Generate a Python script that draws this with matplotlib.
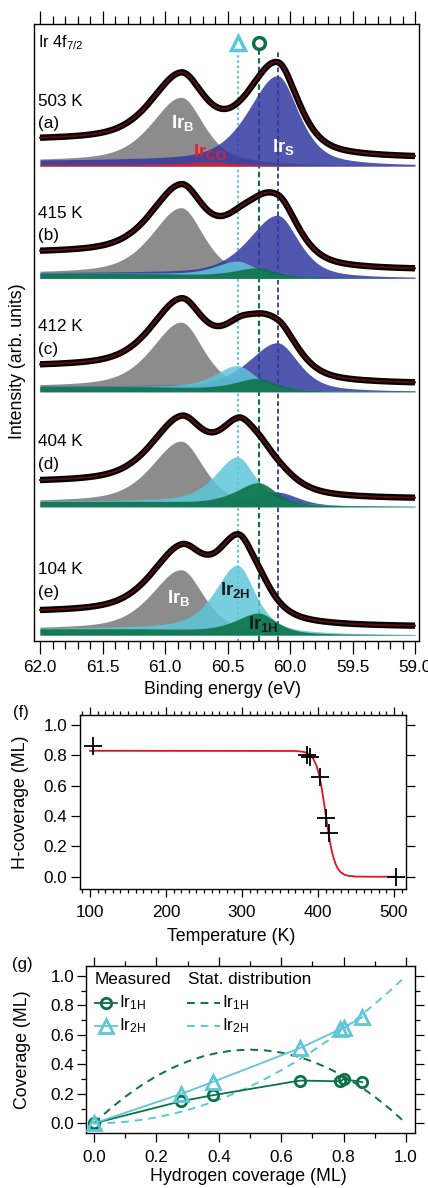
import numpy as np
import matplotlib
matplotlib.use('Agg')
import matplotlib.pyplot as plt
from matplotlib.ticker import MultipleLocator, FormatStrFormatter
from matplotlib.transforms import blended_transform_factory

plt.rcParams['font.family'] = ['Liberation Sans', 'DejaVu Sans']
plt.rcParams['mathtext.fontset'] = 'custom'
plt.rcParams['mathtext.rm'] = 'Liberation Sans'
plt.rcParams['mathtext.it'] = 'Liberation Sans:italic'
plt.rcParams['mathtext.bf'] = 'Liberation Sans:bold'

# ---------------- data: XPS spectra (a)-(e) ----------------
temp_labels = ['503 K', '415 K', '412 K', '404 K', '104 K']
panel_tags = ['(a)', '(b)', '(c)', '(d)', '(e)']
baselines = [475.0, 362.7, 249.3, 134.3, 6.0]      # vertical offset of each spectrum (arb.)
# component binding energies (eV)
E_B, E_S, E_CO, E_2H, E_1H = 60.87, 60.10, 60.65, 60.42, 60.25
# component peak heights (arb. units) per spectrum
h_B = [65, 67, 66, 62, 61]
h_S = [89, 62, 48, 14, 0]
h_CO = [3, 0, 0, 0, 0]
h_2H = [0, 15, 24, 48, 68]
h_1H = [0, 9, 12, 23, 21]
comp_bg = [5, 5, 5, 5, 6]            # Shirley step under the components
data_high_be = [28.3, 27.6, 27.4, 26.7, 25.0]   # measured intensity at 62 eV above baseline
data_low_be = [10.0, 10.0, 9.4, 9.0, 9.3]       # measured intensity at 59 eV above baseline
# line shapes: (left HWHM, right HWHM, lorentz fraction)
shape_B = (0.28, 0.21, 0.55)
shape_S = (0.28, 0.20, 0.60)
shape_CO = (0.25, 0.25, 0.50)
shape_H = (0.22, 0.17, 0.70)

# ---------------- data: panel (f) ----------------
T_meas = [104, 385, 390, 403, 410, 414, 503]
cov_meas = [0.86, 0.80, 0.79, 0.66, 0.39, 0.29, 0.0]
T_fit = [100, 370, 380, 385, 390, 394, 398, 401, 404, 406, 408, 410, 412, 414,
         416, 418, 420, 423, 426, 430, 435, 440, 450, 470, 503]
cov_fit = [0.83, 0.829, 0.824, 0.817, 0.801, 0.776, 0.731, 0.679, 0.607, 0.549,
           0.483, 0.415, 0.347, 0.282, 0.223, 0.173, 0.132, 0.085, 0.054, 0.029,
           0.013, 0.006, 0.001, 0.0, 0.0]

# ---------------- data: panel (g) ----------------
H_cov = [0.0, 0.28, 0.38, 0.66, 0.79, 0.80, 0.86]
Ir1H_meas = [0.0, 0.15, 0.19, 0.29, 0.285, 0.30, 0.28]
Ir2H_meas = [0.0, 0.20, 0.28, 0.51, 0.64, 0.65, 0.72]
theta_stat = [0.0, 0.05, 0.1, 0.15, 0.2, 0.25, 0.3, 0.35, 0.4, 0.45, 0.5,
              0.55, 0.6, 0.65, 0.7, 0.75, 0.8, 0.85, 0.9, 0.95, 1.0]
Ir1H_stat = [0, .095, .18, .255, .32, .375, .42, .455, .48, .495, .5,
             .495, .48, .455, .42, .375, .32, .255, .18, .095, 0]
Ir2H_stat = [0, .0025, .01, .0225, .04, .0625, .09, .1225, .16, .2025, .25,
             .3025, .36, .4225, .49, .5625, .64, .7225, .81, .9025, 1.0]

# ---------------- styling ----------------
C_GRAY = '#8c8c8c'
C_BLUE = '#3338a0'
C_CYAN = '#5ec6d9'
C_GREEN = '#0a7246'
C_RED = '#e0202a'
FS = 12.3

W, H = 428, 1188
fig = plt.figure(figsize=(W / 100, H / 100), dpi=100)


def frac(l, t, r, b):
    return [l / W, 1 - b / H, (r - l) / W, (b - t) / H]


def pv(E, c, h, shape):
    wl, wr, eta = shape
    x = E - c
    w = np.where(x > 0, wl, wr)
    u = x / w
    return h * (eta / (1 + u ** 2) + (1 - eta) * np.exp(-np.log(2) * u ** 2))


# ================= top panel =================
ax = fig.add_axes(frac(34, 24, 419, 641))
E = np.linspace(59.0, 62.0, 1201)
for i in range(5):
    base = baselines[i]
    pB = pv(E, E_B, h_B[i], shape_B)
    pS = pv(E, E_S, h_S[i], shape_S)
    pCO = pv(E, E_CO, h_CO[i], shape_CO)
    p2 = pv(E, E_2H, h_2H[i], shape_H)
    p1 = pv(E, E_1H, h_1H[i], shape_H)
    P = pB + pS + pCO + p2 + p1
    S = np.cumsum(P)
    S = S / S[-1]
    cb = comp_bg[i] * S
    ax.fill_between(E, base, base + cb + pB, color=C_GRAY, lw=0, zorder=2)
    if h_S[i] > 0:
        ax.fill_between(E, base, base + cb + pS, color=C_BLUE, alpha=0.85, lw=0, zorder=2.1)
    if h_CO[i] > 0:
        ax.fill_between(E, base, base + 1.5 * S + pCO, color=C_RED, alpha=0.9, lw=0, zorder=2.2)
    if h_2H[i] > 0:
        ax.fill_between(E, base, base + cb + p2, color=C_CYAN, alpha=0.85, lw=0, zorder=2.3)
    if h_1H[i] > 0:
        ax.fill_between(E, base, base + cb + p1, color=C_GREEN, alpha=0.88, lw=0, zorder=2.4)
    off = data_low_be[i] - P[0]
    step = data_high_be[i] - off - P[-1] - comp_bg[i]
    data = base + off + P + (comp_bg[i] + step) * S
    ax.plot(E, data, color='black', lw=4.6, zorder=5, solid_capstyle='butt')
    ax.plot(E, data, color='#5e0d0d', lw=1.4, zorder=6)
    tr = blended_transform_factory(ax.transAxes, ax.transData)
    ax.text(0.0104, base + 65, temp_labels[i], transform=tr, fontsize=FS, va='center', ha='left')
    ax.text(0.0104, base + 42.5, panel_tags[i], transform=tr, fontsize=FS, va='center', ha='left')

# reference lines and markers
ax.vlines(E_2H, 0, 591, color=C_CYAN, lw=1.5, linestyles=[(0, (1.2, 1.3))], zorder=1)
ax.vlines(E_1H, 0, 591, color=C_GREEN, lw=1.5, linestyles=[(0, (2.6, 1.6))], zorder=1)
ax.vlines(E_S, 0, 591, color=C_BLUE, lw=1.3, linestyles=[(0, (2.6, 1.6))], zorder=1)
ax.plot([E_2H], [598], marker='^', ms=10, mfc='white', mec=C_CYAN, mew=2.5, zorder=7)
ax.plot([E_1H], [598], marker='o', ms=8.5, mfc='white', mec=C_GREEN, mew=2.5, zorder=7)

# component labels
LFS = 13.5
ax.text(60.86, baselines[0] + 43, r'$\mathbf{Ir}_{\mathbf{B}}$', color='white', fontsize=LFS,
        ha='center', va='center', zorder=8)
ax.text(60.056, baselines[0] + 19, r'$\mathbf{Ir}_{\mathbf{S}}$', color='white', fontsize=LFS,
        ha='center', va='center', zorder=8)
ax.text(60.644, baselines[0] + 14, r'$\mathbf{Ir}_{\mathbf{CO}}$', color=C_RED, fontsize=LFS,
        ha='center', va='center', zorder=8)
ax.text(60.888, baselines[4] + 37.5, r'$\mathbf{Ir}_{\mathbf{B}}$', color='white', fontsize=LFS,
        ha='center', va='center', zorder=8)
ax.text(60.44, baselines[4] + 45, r'$\mathbf{Ir}_{\mathbf{2H}}$', color='#1a1a1a', fontsize=LFS,
        ha='center', va='center', zorder=8)
ax.text(60.216, baselines[4] + 11, r'$\mathbf{Ir}_{\mathbf{1H}}$', color='#1a1a1a', fontsize=LFS,
        ha='center', va='center', zorder=8)
ax.text(0.0104, 0.969, r'Ir 4f$_{7/2}$', transform=ax.transAxes, fontsize=11.7, ha='left', va='center')

ax.set_xlim(62.048, 58.968)
ax.set_ylim(0, 617)
ax.set_yticks([])
ax.xaxis.set_major_locator(MultipleLocator(0.5))
ax.xaxis.set_minor_locator(MultipleLocator(0.1))
ax.xaxis.set_major_formatter(FormatStrFormatter('%.1f'))
ax.tick_params(axis='x', which='both', direction='out', top=True, bottom=True, labelsize=FS, width=0.9)
ax.tick_params(axis='x', which='major', length=9.4, pad=4.2)
ax.tick_params(axis='x', which='minor', length=5.8)
for s in ax.spines.values():
    s.set_linewidth(1.0)
ax.set_xlabel('Binding energy (eV)', fontsize=12.8)
ax.xaxis.label.set_va('center')
ax.xaxis.set_label_coords(0.49, -0.0794)
ax.set_ylabel('Intensity (arb. units)', fontsize=12.8)
ax.yaxis.label.set_va('center')
ax.yaxis.set_label_coords(-0.042, 0.453)

# ================= panel (f) =================
ax2 = fig.add_axes(frac(80, 715, 406, 889))
ax2.plot(T_fit, cov_fit, color='#e0141e', lw=1.3, zorder=2)
ax2.plot(T_meas, cov_meas, ls='none', marker='+', ms=13, mew=1.3, color='black', zorder=3)
ax2.set_xlim(86.8, 515.8)
ax2.set_ylim(-0.081, 1.066)
ax2.xaxis.set_major_locator(MultipleLocator(100))
ax2.xaxis.set_minor_locator(MultipleLocator(10))
ax2.yaxis.set_major_locator(MultipleLocator(0.2))
ax2.yaxis.set_major_formatter(FormatStrFormatter('%.1f'))
ax2.tick_params(axis='both', which='both', direction='out', top=True, right=True, labelsize=FS, width=0.9)
ax2.tick_params(axis='x', which='major', length=5.5, pad=6)
ax2.tick_params(axis='x', which='minor', length=3.0)
ax2.tick_params(axis='y', which='major', length=6.5, pad=2.5)
for s in ax2.spines.values():
    s.set_linewidth(1.0)
ax2.set_xlabel('Temperature (K)', fontsize=12.8)
ax2.xaxis.label.set_va('center')
ax2.xaxis.set_label_coords(0.465, -0.273)
ax2.set_ylabel('H-coverage (ML)', fontsize=12.8)
ax2.yaxis.label.set_va('center')
ax2.yaxis.set_label_coords(-0.1825, 0.5)
fig.text(21 / W, 1 - 712 / H, '(f)', fontsize=12, ha='center', va='center')

# ================= panel (g) =================
ax3 = fig.add_axes(frac(86, 966, 415, 1133))
ax3.plot(theta_stat, Ir1H_stat, color=C_GREEN, lw=1.4, ls=(0, (4, 3)), zorder=1)
ax3.plot(theta_stat, Ir2H_stat, color=C_CYAN, lw=1.4, ls=(0, (4, 3)), zorder=1)
ax3.plot(H_cov, Ir1H_meas, color=C_GREEN, lw=1.3, marker='o', ms=7.5, mfc='none', mew=2.0, zorder=3)
ax3.plot(H_cov, Ir2H_meas, color=C_CYAN, lw=1.3, marker='^', ms=9.5, mfc='none', mew=2.0, zorder=3)
ax3.set_xlim(-0.0256, 1.029)
ax3.set_ylim(-0.066, 1.068)
for a in (ax3.xaxis, ax3.yaxis):
    a.set_major_locator(MultipleLocator(0.2))
    a.set_minor_locator(MultipleLocator(0.1))
    a.set_major_formatter(FormatStrFormatter('%.1f'))
ax3.tick_params(axis='both', which='both', direction='out', top=True, right=True, labelsize=FS, width=0.9)
ax3.tick_params(axis='x', which='major', length=6.5, pad=5.5)
ax3.tick_params(axis='y', which='major', length=6.5, pad=2)
ax3.tick_params(axis='both', which='minor', length=3.6)
for s in ax3.spines.values():
    s.set_linewidth(1.0)
ax3.set_xlabel('Hydrogen coverage (ML)', fontsize=12.8)
ax3.xaxis.label.set_va('center')
ax3.xaxis.set_label_coords(0.495, -0.26)
ax3.set_ylabel('Coverage (ML)', fontsize=12.8)
ax3.yaxis.label.set_va('center')
ax3.yaxis.set_label_coords(-0.193, 0.5)
fig.text(22 / W, 1 - 965 / H, '(g)', fontsize=12, ha='center', va='center')


# manual legend (axes-fraction positions)
def fx(px):
    return (px - 86) / 329


def fy(py):
    return (1133 - py) / 167


t = ax3.transAxes
ax3.text(fx(95), fy(980), 'Measured', transform=t, fontsize=FS, ha='left', va='center')
ax3.text(fx(188), fy(980), 'Stat. distribution', transform=t, fontsize=FS, ha='left', va='center')
ax3.plot([fx(95), fx(117)], [fy(1003), fy(1003)], transform=t, color=C_GREEN, lw=1.3)
ax3.plot([fx(106)], [fy(1003)], transform=t, color=C_GREEN, marker='o', ms=7.5, mfc='none', mew=2.0)
ax3.plot([fx(95), fx(117)], [fy(1026), fy(1026)], transform=t, color=C_CYAN, lw=1.3)
ax3.plot([fx(106)], [fy(1026)], transform=t, color=C_CYAN, marker='^', ms=9.5, mfc='none', mew=2.0)
ax3.text(fx(119), fy(1003), r'Ir$_{1\mathrm{H}}$', transform=t, fontsize=FS, ha='left', va='center')
ax3.text(fx(119), fy(1026), r'Ir$_{2\mathrm{H}}$', transform=t, fontsize=FS, ha='left', va='center')
ax3.plot([fx(187), fx(220)], [fy(1003), fy(1003)], transform=t, color=C_GREEN, lw=1.4, ls=(0, (4, 3)))
ax3.plot([fx(187), fx(220)], [fy(1026), fy(1026)], transform=t, color=C_CYAN, lw=1.4, ls=(0, (4, 3)))
ax3.text(fx(222), fy(1003), r'Ir$_{1\mathrm{H}}$', transform=t, fontsize=FS, ha='left', va='center')
ax3.text(fx(222), fy(1026), r'Ir$_{2\mathrm{H}}$', transform=t, fontsize=FS, ha='left', va='center')

fig.savefig('out.png', dpi=100)
